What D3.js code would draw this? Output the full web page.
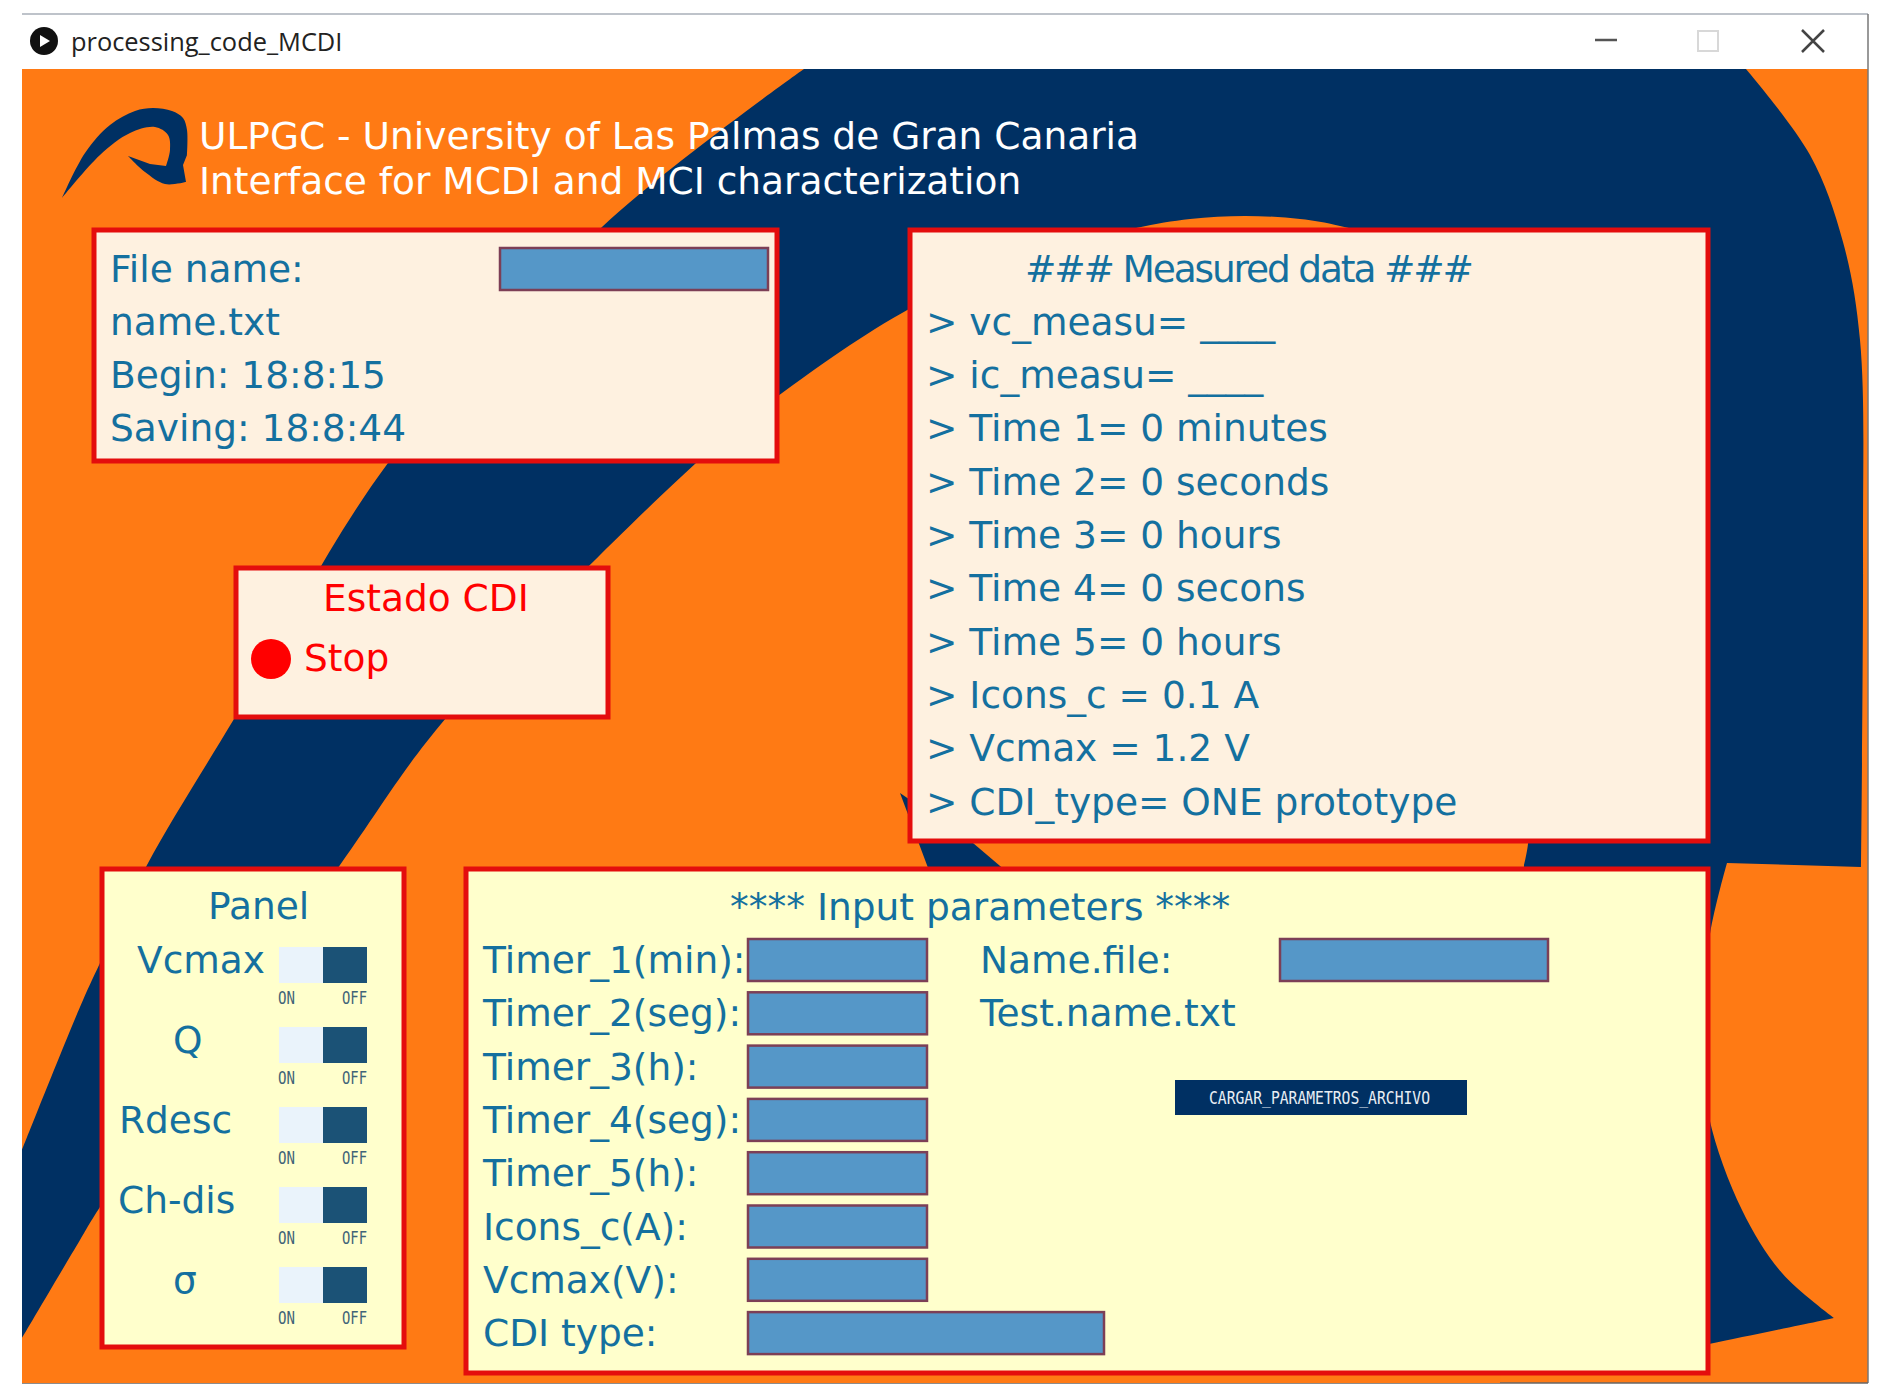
<!DOCTYPE html>
<html>
<head>
<meta charset="utf-8">
<script src="https://cdn.jsdelivr.net/npm/d3@7"></script>
<style>
body { margin: 0; background: #fff; }
text { font-family: "DejaVu Sans", sans-serif; }
</style>
</head>
<body>
<svg id="chart" width="1882" height="1398"></svg>
<script>
const titleLines = ["ULPGC - University of Las Palmas de Gran Canaria", "Interface for MCDI and MCI characterization"];
const fileLines = ["File name:", "name.txt", "Begin: 18:8:15", "Saving: 18:8:44"];
const measuredLines = ["### Measured data ###", "> vc_measu= ____", "> ic_measu= ____", "> Time 1= 0 minutes", "> Time 2= 0 seconds",
    "> Time 3= 0 hours", "> Time 4= 0 secons", "> Time 5= 0 hours", "> Icons_c = 0.1 A", "> Vcmax = 1.2 V", "> CDI_type= ONE prototype"];
const panelLabels = ["Vcmax", "Q", "Rdesc", "Ch-dis", "σ"];
const inputLabels = ["Timer_1(min):", "Timer_2(seg):", "Timer_3(h):", "Timer_4(seg):", "Timer_5(h):", "Icons_c(A):", "Vcmax(V):", "CDI type:"];
const nameLines = ["Name.file:", "Test.name.txt"];

const orange = "#ff7a14", navy = "#003063", red = "#e40d0d", cream = "#fef1e0", pale = "#ffffcc", ink = "#14709f", field = "#5597c8";
const fontSize = 37.5;

const svg = d3.select("#chart");
const rowY = d3.scaleLinear().domain([0, 1]).range([281.5, 334.8]);  // text rows, top boxes
const inputY = d3.scaleLinear().domain([0, 1]).range([973, 1026.3]); // text rows, input box
const panelY = d3.scaleLinear().domain([0, 1]).range([973, 1053]);   // rows of the switch panel

// window frame
svg.append("rect").attr("x", 22).attr("y", 69).attr("width", 1846).attr("height", 1314).attr("fill", orange);
svg.append("line").attr("x1", 22).attr("x2", 1868).attr("y1", 14).attr("y2", 14).attr("stroke", "#a9afb8").attr("stroke-width", 1.5);
svg.append("line").attr("x1", 1868).attr("x2", 1868).attr("y1", 14).attr("y2", 1383).attr("stroke", "#777").attr("stroke-width", 1.5);
svg.append("line").attr("x1", 22).attr("x2", 1868).attr("y1", 1383).attr("y2", 1383).attr("stroke", "#666").attr("stroke-width", 1.5);
svg.append("circle").attr("cx", 44).attr("cy", 41).attr("r", 14).attr("fill", "#111");
svg.append("path").attr("d", "M40,35L50,41L40,47Z").attr("fill", "#fff");
svg.append("text").attr("x", 71).attr("y", 51).attr("font-size", 25.4).attr("fill", "#222").style("font-family", "'Open Sans'").text("processing_code_MCDI");
svg.append("line").attr("x1", 1595).attr("x2", 1617).attr("y1", 40).attr("y2", 40).attr("stroke", "#555").attr("stroke-width", 2.5);
svg.append("rect").attr("x", 1698).attr("y", 31).attr("width", 20).attr("height", 20).attr("fill", "none").attr("stroke", "#d8d8d8").attr("stroke-width", 2);
svg.append("path").attr("d", "M1802,30L1824,52M1824,30L1802,52").attr("stroke", "#444").attr("stroke-width", 2.5);

// logo in the background, traced by hand
const smooth = d3.line().curve(d3.curveCatmullRom.alpha(0.5));
const straight = d3.line();
const join = (...parts) => parts.join("").replace(/(?!^)M/g, "L") + "Z";

const bandOuter = [[22, 1150], [80, 1007], [100, 963], [147, 865], [234, 719], [388, 463], [602, 227], [804, 69]];
const bandRight = [[1746, 69], [1810, 155], [1843, 242], [1860, 340], [1863, 551], [1861, 867]];
const tail = [[1727, 863], [1710, 934], [1702, 1030], [1709, 1117], [1742, 1210], [1782, 1273], [1834, 1318]];
const tailBack = [[1834, 1318], [1709, 1344], [1600, 1365], [500, 1365], [22, 1338]];
svg.append("path").attr("fill", navy)
    .attr("d", join(smooth(bandOuter), smooth(bandRight), smooth(tail), smooth(tailBack)));

const holeEdge = [[22, 1338], [80, 1240], [100, 1207], [340, 865], [446, 718], [696, 463], [778, 396], [909, 309], [1030, 255], [1136, 228], [1190, 219], [1245, 216],
    [1300, 219], [1340, 226], [1420, 252], [1480, 350], [1520, 550], [1532, 750], [1528, 844], [1524, 865]];
const holeClose = [[1524, 865], [1500, 1383], [22, 1383]];
svg.append("path").attr("fill", orange).attr("d", join(smooth(holeEdge), straight(holeClose)));
svg.append("path").attr("fill", navy).attr("d", straight([[900, 793], [973, 843], [1040, 900], [940, 900]]) + "Z");

const swooshOuter = [[62, 198], [85, 153], [110, 125], [135, 111], [153, 108], [172, 111], [183, 118], [187, 130], [187, 155]];
const swooshHook = [[187, 155], [183, 165], [186, 182]];
const swooshUnder = [[186, 182], [165, 184], [145, 172], [128, 156]];
const swooshInner = [[128, 156], [150, 164], [166, 166], [170, 150], [168, 135], [155, 127], [130, 133], [100, 155], [62, 198]];
svg.append("path").attr("fill", navy)
    .attr("d", join(smooth(swooshOuter), straight(swooshHook), smooth(swooshUnder), straight(swooshInner.slice(0, 3)), smooth(swooshInner.slice(2))));

function box(x0, x1, y0, y1, fill) {
    svg.append("rect").attr("x", x0).attr("y", y0).attr("width", x1 - x0).attr("height", y1 - y0)
        .attr("fill", fill).attr("stroke", red).attr("stroke-width", 5);
}
function inputField(x0, x1, y0) {
    svg.append("rect").attr("x", x0).attr("y", y0).attr("width", x1 - x0).attr("height", 42)
        .attr("fill", field).attr("stroke", "#7c3f56").attr("stroke-width", 2.5);
}

box(94, 777, 230, 461, cream);
box(236, 608, 568, 717, cream);
box(910, 1708, 230, 841, cream);
box(102, 404, 869, 1347, pale);
box(466, 1708, 869, 1373, pale);

// header
svg.append("g").selectAll("text").data(titleLines).join("text")
    .attr("x", 199).attr("y", (d, i) => 148.5 + i * 45)
    .attr("font-size", fontSize).attr("fill", "#fff").text(d => d);

// file box
svg.append("g").selectAll("text").data(fileLines).join("text")
    .attr("x", 110).attr("y", (d, i) => rowY(i))
    .attr("font-size", fontSize).attr("fill", ink).text(d => d);
inputField(500, 768, 248);

// state box
svg.append("text").attr("x", 323).attr("y", 611).attr("font-size", fontSize).attr("fill", "#f00").text("Estado CDI");
svg.append("circle").attr("cx", 271).attr("cy", 659).attr("r", 20).attr("fill", "#f00");
svg.append("text").attr("x", 304).attr("y", 671).attr("font-size", fontSize).attr("fill", "#f00").text("Stop");

// measured data box
svg.append("g").selectAll("text").data(measuredLines).join("text")
    .attr("x", (d, i) => i === 0 ? 1025 : 926).attr("y", (d, i) => rowY(i))
    .attr("font-size", fontSize).attr("fill", ink)
    .each(function (d, i) { if (i === 0) d3.select(this).attr("textLength", 449); })
    .text(d => d);

// panel with the switches
svg.append("text").attr("x", 208).attr("y", 919).attr("font-size", fontSize).attr("fill", ink).text("Panel");
const panelX = d3.scaleOrdinal().domain(panelLabels).range([137, 173, 119, 118, 173]);
const rows = svg.append("g").selectAll("g").data(panelLabels).join("g");
rows.append("text").attr("x", d => panelX(d)).attr("y", (d, i) => panelY(i))
    .attr("font-size", fontSize).attr("fill", ink).text(d => d);
rows.append("rect").attr("x", 279).attr("y", (d, i) => panelY(i) - 26).attr("width", 44).attr("height", 36).attr("fill", "#eaf3fb");
rows.append("rect").attr("x", 323).attr("y", (d, i) => panelY(i) - 26).attr("width", 44).attr("height", 36).attr("fill", "#1b5276");
rows.append("text").attr("x", 278).attr("y", (d, i) => panelY(i) + 31).attr("textLength", 17).attr("lengthAdjust", "spacingAndGlyphs")
    .attr("font-size", 18).attr("fill", "#3f6478").style("font-family", "'DejaVu Sans Mono'").text("ON");
rows.append("text").attr("x", 342).attr("y", (d, i) => panelY(i) + 31).attr("textLength", 25).attr("lengthAdjust", "spacingAndGlyphs")
    .attr("font-size", 18).attr("fill", "#3f6478").style("font-family", "'DejaVu Sans Mono'").text("OFF");

// input box
svg.append("text").attr("x", 730).attr("y", 920).attr("font-size", fontSize).attr("fill", ink).text("**** Input parameters ****");
svg.append("g").selectAll("text").data(inputLabels).join("text")
    .attr("x", 483).attr("y", (d, i) => inputY(i))
    .attr("font-size", fontSize).attr("fill", ink).text(d => d);
svg.append("g").selectAll("rect").data(inputLabels).join("rect")
    .attr("x", 748).attr("y", (d, i) => inputY(i) - 34)
    .attr("width", (d, i) => i === inputLabels.length - 1 ? 356 : 179).attr("height", 42)
    .attr("fill", field).attr("stroke", "#7c3f56").attr("stroke-width", 2.5);
svg.append("g").selectAll("text").data(nameLines).join("text")
    .attr("x", 980).attr("y", (d, i) => inputY(i))
    .attr("font-size", fontSize).attr("fill", ink).text(d => d);
inputField(1280, 1548, 939);

svg.append("rect").attr("x", 1175).attr("y", 1080).attr("width", 292).attr("height", 35).attr("fill", navy);
svg.append("text").attr("x", 1209).attr("y", 1104).attr("textLength", 221).attr("lengthAdjust", "spacingAndGlyphs").attr("font-size", 18)
    .attr("fill", "#e8eef4").style("font-family", "'DejaVu Sans Mono'").text("CARGAR_PARAMETROS_ARCHIVO");
</script>
</body>
</html>
